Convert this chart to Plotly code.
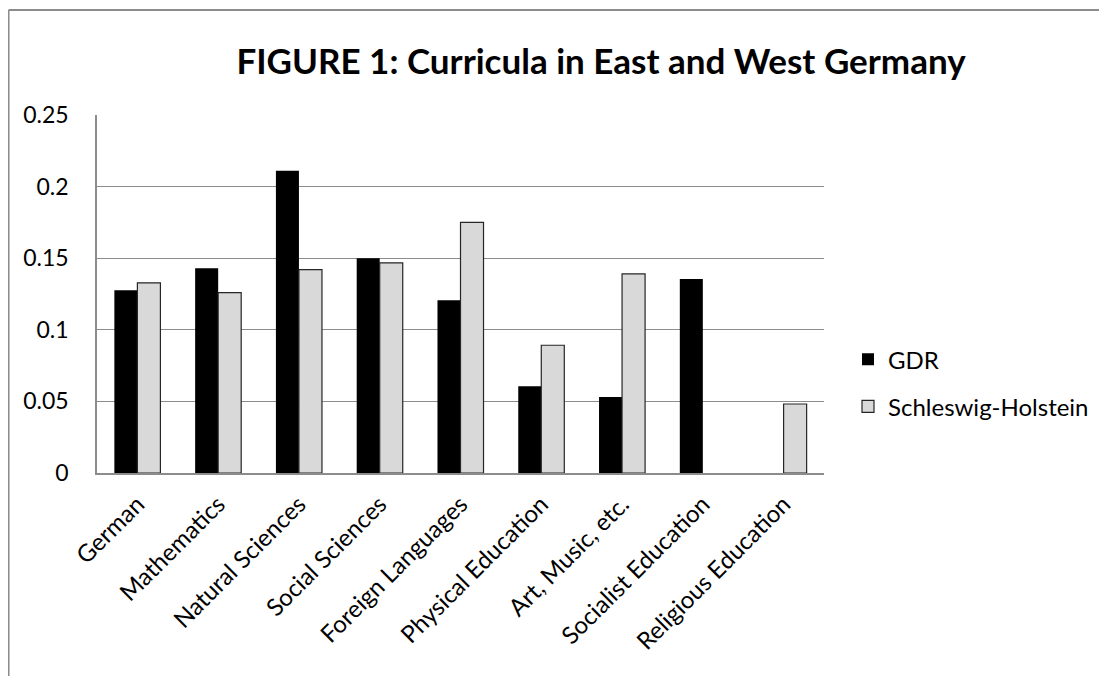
import plotly.graph_objects as go

categories = ["German", "Mathematics", "Natural Sciences", "Social Sciences",
              "Foreign Languages", "Physical Education", "Art, Music, etc.",
              "Socialist Education", "Religious Education"]
gdr = [0.1277, 0.143, 0.211, 0.150, 0.1207, 0.0606, 0.0531, 0.1354, None]
schleswig_holstein = [0.1328, 0.126, 0.142, 0.1468, 0.175, 0.0892, 0.139, None, 0.0482]
y_ticks = [0, 0.05, 0.1, 0.15, 0.2, 0.25]
y_tick_labels = ["0", "0.05", "0.1", "0.15", "0.2", "0.25"]

FONT = "Lato, Carlito, 'Open Sans', sans-serif"

fig = go.Figure()
fig.add_trace(go.Bar(x=categories, y=gdr, name="GDR", legendgroup="g1",
                     marker=dict(color="#000000", line=dict(color="#000000", width=0))))
fig.add_trace(go.Bar(x=categories, y=schleswig_holstein, name="Schleswig-Holstein",
                     legendgroup="g2",
                     marker=dict(color="#d9d9d9", line=dict(color="#262626", width=1.2))))

fig.update_layout(
    width=1099, height=668,
    margin=dict(l=89, r=283, t=107, b=203),
    paper_bgcolor="white", plot_bgcolor="white",
    barmode="group", bargap=0.43, bargroupgap=0,
    font=dict(family=FONT, color="#000000", size=22),
    title=dict(text="<b>FIGURE 1: Curricula in East and West Germany</b>",
               x=0.5396, xanchor="center", y=0.919, yanchor="middle",
               font=dict(family=FONT, size=35, color="#000000")),
    showlegend=True,
    legend=dict(x=1.033, xanchor="left", y=0.251, yanchor="middle",
                font=dict(family=FONT, size=24, color="#000000"),
                tracegroupgap=13, bgcolor="rgba(0,0,0,0)"),
    xaxis=dict(showline=True, linecolor="#8c8c8c", linewidth=1.5,
               tickangle=-45, ticks="outside", ticklen=6,
               tickcolor="rgba(0,0,0,0)", tickfont=dict(family=FONT, size=24),
               showgrid=False),
    yaxis=dict(range=[0, 0.25], tickvals=y_ticks, ticktext=y_tick_labels,
               showline=True, linecolor="#8c8c8c", linewidth=1.5,
               showgrid=True, gridcolor="#8c8c8c", gridwidth=1,
               zeroline=False, ticks="outside", ticklen=22,
               tickcolor="rgba(0,0,0,0)",
               tickfont=dict(family=FONT, size=23)),
    shapes=[
        dict(type="line", xref="paper", yref="paper",
             x0=-0.1217, x1=1.39, y0=1.2933, y1=1.2933,
             line=dict(color="#8c8c8c", width=2)),
        dict(type="line", xref="paper", yref="paper",
             x0=-0.1217, x1=-0.1217, y0=1.2933, y1=-0.6,
             line=dict(color="#8c8c8c", width=2)),
    ],
)

fig.write_html("out.html")
